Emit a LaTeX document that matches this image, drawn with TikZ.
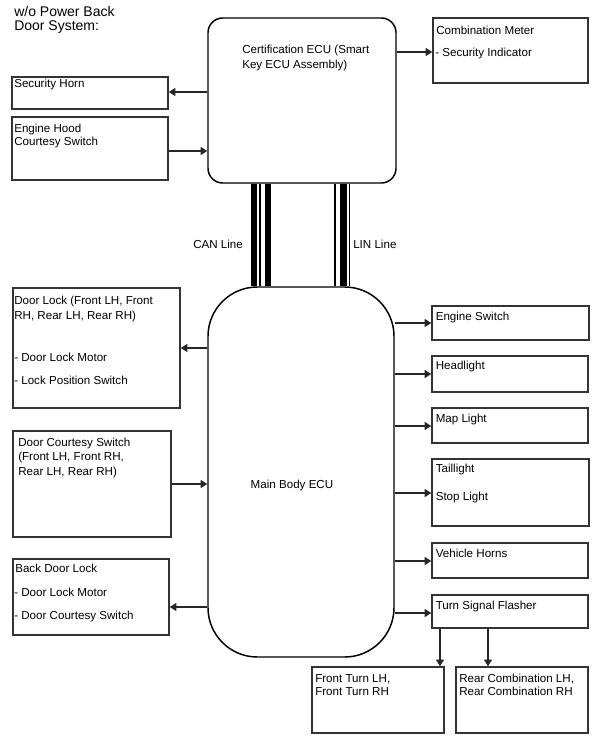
\documentclass[tikz,border=0pt]{standalone}
\usepackage{fontspec}
\setmainfont{Liberation Sans}
\usetikzlibrary{arrows.meta,fit}
\begin{document}
\begin{tikzpicture}[x=0.75pt,y=-0.75pt,
  box/.style={draw=black!80, line width=1.1pt, inner sep=0pt, fit={#1}},
  ecu/.style={draw=black, line width=1.1pt, inner sep=0pt, fit={#1}},
  lbl/.style={anchor=base west, inner sep=0pt, font=\fontsize{8.7}{10}\selectfont},
  ttl/.style={anchor=base west, inner sep=0pt, font=\fontsize{10.5}{12}\selectfont},
  arr/.style={line width=1.1pt, draw=black!85, -{Triangle[length=5pt,width=6pt]}},
  bus/.style={fill=black}
]
\useasboundingbox (0,0) rectangle (605,749);

% title
\node[ttl] (title1) at (14,17) {w/o Power Back};
\node[ttl] (title2) at (14,31) {Door System:};

% ECUs
\node[ecu={(208,18)(396,183)}, rounded corners=11pt] (cert) {};
\node[lbl] (certt1) at (242,54) {Certification ECU (Smart};
\node[lbl] (certt2) at (242,68.5) {Key ECU Assembly)};

\node[ecu={(208,287)(394,657)}, rounded corners=37pt] (main) {};
\node[lbl, anchor=base] (maint) at (292,488) {Main Body ECU};

% buses
\fill (cert.south -| 251,0) rectangle (main.north -| 257,0);
\fill (cert.south -| 264.5,0) rectangle (main.north -| 271,0);
\draw[line width=0.8pt] (cert.south -| 260,0) -- (main.north -| 260,0);
\fill (cert.south -| 340,0) rectangle (main.north -| 346.5,0);
\draw[line width=0.8pt] (cert.south -| 335,0) -- (main.north -| 335,0);
\draw[line width=0.8pt] (cert.south -| 349.5,0) -- (main.north -| 349.5,0);
\node[lbl] (can) at (193,248) {CAN Line};
\node[lbl] (lin) at (353,248) {LIN Line};

% top right
\node[box={(433,18)(588,83)}] (meter) {};
\node[lbl] (metert1) at (436,35) {Combination Meter};
\node[lbl] (metert2) at (435,56) {- Security Indicator};
\draw[arr] (cert.east |- 0,52) -- (meter.west |- 0,52);

% top left
\node[box={(12,77)(168,109)}] (horn) {};
\node[lbl] (hornt) at (14,88) {Security Horn};
\draw[arr] (cert.west |- 0,92) -- (horn.east |- 0,92);

\node[box={(12,117)(168,180)}] (hood) {};
\node[lbl] (hoodt1) at (14,132) {Engine Hood};
\node[lbl] (hoodt2) at (14,145.5) {Courtesy Switch};
\draw[arr] (hood.east |- 0,151) -- (cert.west |- 0,151);

% left of main
\node[box={(13,288)(180,408)}] (lock) {};
\node[lbl] (lockt1) at (14,304) {Door Lock (Front LH, Front};
\node[lbl] (lockt2) at (14,319) {RH, Rear LH, Rear RH)};
\node[lbl] (lockt3) at (14,361) {- Door Lock Motor};
\node[lbl] (lockt4) at (14,384) {- Lock Position Switch};
\draw[arr] (main.west |- 0,348) -- (lock.east |- 0,348);

\node[box={(13,431)(171,537)}] (court) {};
\node[lbl] (courtt1) at (18,446) {Door Courtesy Switch};
\node[lbl] (courtt2) at (18,460.5) {(Front LH, Front RH,};
\node[lbl] (courtt3) at (18,475) {Rear LH, Rear RH)};
\draw[arr] (court.east |- 0,484) -- (main.west |- 0,484);

\node[box={(13,559)(169,635)}] (back) {};
\node[lbl] (backt1) at (15,572) {Back Door Lock};
\node[lbl] (backt2) at (14,596) {- Door Lock Motor};
\node[lbl] (backt3) at (14,619) {- Door Courtesy Switch};
\draw[arr] (main.west |- 0,607) -- (back.east |- 0,607);

% right of main
\node[box={(432,306)(589,340)}] (eng) {};
\node[lbl] (engt) at (435.5,320) {Engine Switch};
\draw[arr] (main.east |- 0,323) -- (eng.west |- 0,323);

\node[box={(432,356)(588,392)}] (head) {};
\node[lbl] (headt) at (435.5,369) {Headlight};
\draw[arr] (main.east |- 0,374) -- (head.west |- 0,374);

\node[box={(432,408)(588,443)}] (map) {};
\node[lbl] (mapt) at (435.5,422) {Map Light};
\draw[arr] (main.east |- 0,426) -- (map.west |- 0,426);

\node[box={(432,459)(589,526)}] (tail) {};
\node[lbl] (tailt1) at (435.5,472) {Taillight};
\node[lbl] (tailt2) at (435.5,500) {Stop Light};
\draw[arr] (main.east |- 0,493) -- (tail.west |- 0,493);

\node[box={(432,543)(588,578)}] (vh) {};
\node[lbl] (vht) at (435.5,557) {Vehicle Horns};
\draw[arr] (main.east |- 0,561) -- (vh.west |- 0,561);

\node[box={(432,595)(588,628)}] (flash) {};
\node[lbl] (flasht) at (435.5,609) {Turn Signal Flasher};
\draw[arr] (main.east |- 0,613) -- (flash.west |- 0,613);

% bottom
\node[box={(312,667)(444,733)}] (front) {};
\node[lbl] (frontt1) at (315,682) {Front Turn LH,};
\node[lbl] (frontt2) at (315,695) {Front Turn RH};
\node[box={(456,667)(588,733)}] (rear) {};
\node[lbl] (reart1) at (459,682) {Rear Combination LH,};
\node[lbl] (reart2) at (459,695) {Rear Combination RH};
\draw[arr] (flash.south -| 440,0) -- (front.north -| 440,0);
\draw[arr] (flash.south -| 488,0) -- (rear.north -| 488,0);
\end{tikzpicture}
\end{document}
